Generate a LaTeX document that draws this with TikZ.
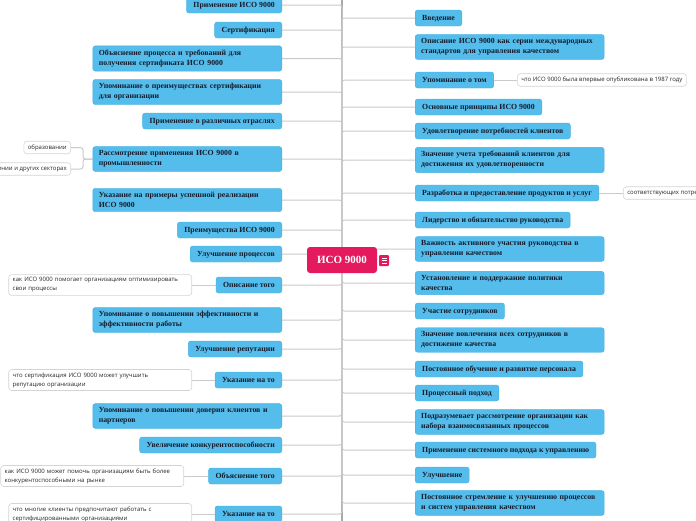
\documentclass[tikz,border=0pt]{standalone}
\usepackage{fontspec}
\setmainfont{Liberation Serif}
\newfontfamily\notefont{Open Sans}
\usetikzlibrary{backgrounds}

\definecolor{topicblue}{RGB}{84,189,236}
\definecolor{topicedge}{RGB}{70,176,226}
\definecolor{topictext}{RGB}{22,28,44}
\definecolor{rootpink}{RGB}{229,25,94}
\definecolor{linegray}{RGB}{202,202,202}
\definecolor{trunkgray}{RGB}{168,168,168}
\definecolor{notegray}{RGB}{212,212,212}

\tikzset{
    topicbase/.style={fill=topicblue, draw=topicedge, line width=0.4pt, rounded corners=2.5pt,
        inner xsep=6pt, inner ysep=4pt, text=topictext, font=\fontsize{7.8}{10}\selectfont\bfseries},
    topic/.style={topicbase, inner xsep=7pt, text height=6pt, text depth=2pt},
    widetopic/.style={topicbase, text width=177pt, align=left},
    notebase/.style={fill=white, draw=notegray, line width=0.6pt, rounded corners=3pt,
        inner xsep=4pt, inner ysep=3pt, text=black!85, font=\notefont\fontsize{6}{9}\selectfont},
    note/.style={notebase, text height=5pt, text depth=1.5pt},
    widenote/.style={notebase, text width=175pt, align=left},
    conn/.style={draw=linegray, line width=1pt, rounded corners=2.5pt},
}

\begin{document}
\begin{tikzpicture}[x=1pt,y=-1pt]
            \useasboundingbox (0,0) rectangle (696,520);
            \clip (0,0) rectangle (696,520);

            % centre
            \node[fill=rootpink, rounded corners=3pt, text=white, minimum width=70pt, minimum height=26pt,
                font=\fontsize{11}{13}\selectfont\bfseries] (root) at (342,260) {ИСО 9000};
            \fill[rootpink, rounded corners=1pt] (379,255) rectangle (389,266);
            \draw[white, line width=0.6pt] (381.5,258) -- (386.5,258) (381.5,260.5) -- (386.5,260.5) (381.5,263) -- (386.5,263);

            % left side
            \node[topic, anchor=east] (l1) at (282,5) {Применение ИСО 9000};
            \node[topic, anchor=east] (l2) at (282,30) {Сертификация};
            \node[widetopic, anchor=east] (l3) at (282,58.5) {Объяснение процесса и требований для\\получения сертификата ИСО 9000};
            \node[widetopic, anchor=east] (l4) at (282,92) {Упоминание о преимуществах сертификации\\для организации};
            \node[topic, anchor=east] (l5) at (282,121) {Применение в различных отраслях};
            \node[widetopic, anchor=east] (l6) at (282,159) {Рассмотрение применения ИСО 9000 в\\промышленности};
            \node[widetopic, anchor=east] (l7) at (282,200) {Указание на примеры успешной реализации\\ИСО 9000};
            \node[topic, anchor=east] (l8) at (282,230) {Преимущества ИСО 9000};
            \node[topic, anchor=east] (l9) at (282,254) {Улучшение процессов};
            \node[topic, anchor=east] (l10) at (282,285) {Описание того};
            \node[widetopic, anchor=east] (l11) at (282,320) {Упоминание о повышении эффективности и\\эффективности работы};
            \node[topic, anchor=east] (l12) at (282,349) {Улучшение репутации};
            \node[topic, anchor=east] (l13) at (282,380) {Указание на то};
            \node[widetopic, anchor=east] (l14) at (282,416) {Упоминание о повышении доверия клиентов и\\партнеров};
            \node[topic, anchor=east] (l15) at (282,445) {Увеличение конкурентоспособности};
            \node[topic, anchor=east] (l16) at (282,476) {Объяснение того};
            \node[topic, anchor=east] (l17) at (282,514) {Указание на то};

            \node[note, anchor=east] (n6a) at (71,147.5) {образовании};
            \node[note, anchor=east] (n6b) at (71,169) {здравоохранении и других секторах};
            \coordinate (fork6) at (83,159);
            \node[widenote, anchor=east] (n10) at (192,285) {как ИСО 9000 помогает организациям оптимизировать\\свои процессы};
            \node[widenote, anchor=east] (n13) at (192,380) {что сертификация ИСО 9000 может улучшить\\репутацию организации};
            \node[widenote, anchor=east] (n16) at (184,476) {как ИСО 9000 может помочь организациям быть более\\конкурентоспособными на рынке};
            \node[widenote, anchor=east] (n17) at (192,514) {что многие клиенты предпочитают работать с\\сертифицированными организациями};

            % right side
            \node[topic, anchor=west] (r1) at (415,18) {Введение};
            \node[widetopic, anchor=west] (r2) at (415,47) {Описание ИСО 9000 как серии международных\\стандартов для управления качеством};
            \node[topic, anchor=west] (r3) at (415,80) {Упоминание о том};
            \node[topic, anchor=west] (r4) at (415,107) {Основные принципы ИСО 9000};
            \node[topic, anchor=west] (r5) at (415,131) {Удовлетворение потребностей клиентов};
            \node[widetopic, anchor=west] (r6) at (415,160) {Значение учета требований клиентов для\\достижения их удовлетворенности};
            \node[topic, anchor=west] (r7) at (415,193) {Разработка и предоставление продуктов и услуг};
            \node[topic, anchor=west] (r8) at (415,220) {Лидерство и обязательство руководства};
            \node[widetopic, anchor=west] (r9) at (415,249) {Важность активного участия руководства в\\управлении качеством};
            \node[widetopic, anchor=west] (r10) at (415,283) {Установление и поддержание политики\\качества};
            \node[topic, anchor=west] (r11) at (415,311) {Участие сотрудников};
            \node[widetopic, anchor=west] (r12) at (415,340) {Значение вовлечения всех сотрудников в\\достижение качества};
            \node[topic, anchor=west] (r13) at (415,369) {Постоянное обучение и развитие персонала};
            \node[topic, anchor=west] (r14) at (415,393) {Процессный подход};
            \node[widetopic, anchor=west] (r15) at (415,422) {Подразумевает рассмотрение организации как\\набора взаимосвязанных процессов};
            \node[topic, anchor=west] (r16) at (415,450) {Применение системного подхода к управлению};
            \node[topic, anchor=west] (r17) at (415,475) {Улучшение};
            \node[widetopic, anchor=west] (r18) at (415,503) {Постоянное стремление к улучшению процессов\\и систем управления качеством};

            \node[note, anchor=west] (n3) at (517,80) {что ИСО 9000 была впервые опубликована в 1987 году};
            \node[note, anchor=west] (n7) at (623,193) {соответствующих потребностям клиентов};

            % connectors
            \coordinate (trunktop) at (342,-5);
            \coordinate (trunkbot) at (342,525);
            \begin{pgfonlayer}{background}
            \draw[trunkgray, line width=1.4pt] (trunktop) -- (trunkbot);
            \draw[conn] (root.center) |- (l1.east);
            \draw[conn] (root.center) |- (l2.east);
            \draw[conn] (root.center) |- (l3.east);
            \draw[conn] (root.center) |- (l4.east);
            \draw[conn] (root.center) |- (l5.east);
            \draw[conn] (root.center) |- (l6.east);
            \draw[conn] (root.center) |- (l7.east);
            \draw[conn] (root.center) |- (l8.east);
            \draw[conn] (root.center) |- (l9.east);
            \draw[conn] (root.center) |- (l10.east);
            \draw[conn] (root.center) |- (l11.east);
            \draw[conn] (root.center) |- (l12.east);
            \draw[conn] (root.center) |- (l13.east);
            \draw[conn] (root.center) |- (l14.east);
            \draw[conn] (root.center) |- (l15.east);
            \draw[conn] (root.center) |- (l16.east);
            \draw[conn] (root.center) |- (l17.east);

            \draw[conn] (root.center) |- (r1.west);
            \draw[conn] (root.center) |- (r2.west);
            \draw[conn] (root.center) |- (r3.west);
            \draw[conn] (root.center) |- (r4.west);
            \draw[conn] (root.center) |- (r5.west);
            \draw[conn] (root.center) |- (r6.west);
            \draw[conn] (root.center) |- (r7.west);
            \draw[conn] (root.center) |- (r8.west);
            \draw[conn] (root.center) |- (r9.west);
            \draw[conn] (root.center) |- (r10.west);
            \draw[conn] (root.center) |- (r11.west);
            \draw[conn] (root.center) |- (r12.west);
            \draw[conn] (root.center) |- (r13.west);
            \draw[conn] (root.center) |- (r14.west);
            \draw[conn] (root.center) |- (r15.west);
            \draw[conn] (root.center) |- (r16.west);
            \draw[conn] (root.center) |- (r17.west);
            \draw[conn] (root.center) |- (r18.west);

            \draw[conn] (l6.west) -- (fork6) |- (n6a.east);
            \draw[conn] (l6.west) -- (fork6) |- (n6b.east);
            \draw[conn] (l10.west) -- (n10.east);
            \draw[conn] (l13.west) -- (n13.east);
            \draw[conn] (l16.west) -- (n16.east);
            \draw[conn] (l17.west) -- (n17.east);
            \draw[conn] (r3.east) -- (n3.west);
            \draw[conn] (r7.east) -- (n7.west);
            \end{pgfonlayer}
        \end{tikzpicture}
\end{document}
